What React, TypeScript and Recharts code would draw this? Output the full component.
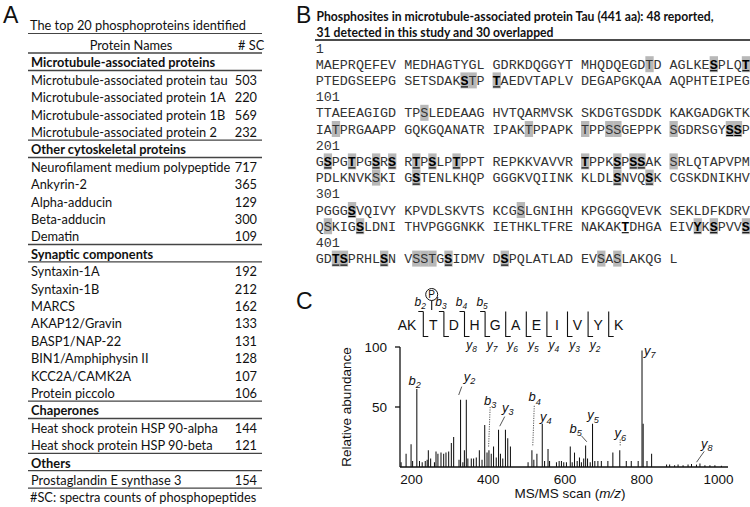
import React from "react";
import { BarChart, Bar, XAxis, YAxis, ReferenceDot, ReferenceLine, Label } from "recharts";

// ---- panel A: top 20 phosphoproteins ----
const sectionNames = [
  "Microtubule-associated proteins",
  "Other cytoskeletal proteins",
  "Synaptic components",
  "Chaperones",
  "Others",
];
const proteinNames = [
  "Microtubule-associated protein tau",
  "Microtubule-associated protein 1A",
  "Microtubule-associated protein 1B",
  "Microtubule-associated protein 2",
  "Neurofilament medium polypeptide",
  "Ankyrin-2",
  "Alpha-adducin",
  "Beta-adducin",
  "Dematin",
  "Syntaxin-1A",
  "Syntaxin-1B",
  "MARCS",
  "AKAP12/Gravin",
  "BASP1/NAP-22",
  "BIN1/Amphiphysin II",
  "KCC2A/CAMK2A",
  "Protein piccolo",
  "Heat shock protein HSP 90-alpha",
  "Heat shock protein HSP 90-beta",
  "Prostaglandin E synthase 3",
];
const proteinSection = [0, 0, 0, 0, 1, 1, 1, 1, 1, 2, 2, 2, 2, 2, 2, 2, 2, 3, 3, 4];
const spectraCounts = [503, 220, 569, 232, 717, 365, 129, 300, 109, 192, 212, 162, 133, 131, 128, 107, 106, 144, 121, 154];

// ---- panel B: tau phosphosites ----
const tauSequence =
  "MAEPRQEFEVMEDHAGTYGLGDRKDQGGYTMHQDQEGDTDAGLKESPLQT" +
  "PTEDGSEEPGSETSDAKSTPTAEDVTAPLVDEGAPGKQAAAQPHTEIPEG" +
  "TTAEEAGIGDTPSLEDEAAGHVTQARMVSKSKDGTGSDDKKAKGADGKTK" +
  "IATPRGAAPPGQKGQANATRIPAKTPPAPKTPPSSGEPPKSGDRSGYSSP" +
  "GSPGTPGSRSRTPSLPTPPTREPKKVAVVRTPPKSPSSAKSRLQTAPVPM" +
  "PDLKNVKSKIGSTENLKHQPGGGKVQIINKKLDLSNVQSKCGSKDNIKHV" +
  "PGGGSVQIVYKPVDLSKVTSKCGSLGNIHHKPGGGQVEVKSEKLDFKDRV" +
  "QSKIGSLDNITHVPGGGNKKIETHKLTFRENAKAKTDHGAEIVYKSPVVS" +
  "GDTSPRHLSNVSSTGSIDMVDSPQLATLADEVSASLAKQGL";
const reportedSites = [
  39, 46, 50, 68, 69, 71, 113, 153, 175, 181, 184, 185, 191, 198, 199, 202, 205, 208, 210, 212, 214, 217, 231, 235,
  237, 238, 241, 258, 262, 285, 289, 305, 324, 352, 356, 394, 396, 400, 403, 404, 409, 412, 413, 414, 416, 422, 433, 435,
];
const detectedSites = [
  46, 50, 68, 71, 198, 199, 202, 205, 208, 210, 212, 214, 217, 231, 235, 237, 238, 262, 285, 289, 305, 356, 386, 394,
  396, 400, 403, 404, 409, 416, 422,
];

// ---- panel C: MS/MS spectrum of AK(pT)DHGAEIVYK ----
const peakMz = [
  173, 186, 199, 203, 214, 221, 228, 236, 241, 244, 250, 260, 264, 269, 277, 284, 290, 297, 304, 310, 324, 328, 334,
  338, 343, 347, 356, 362, 369, 377, 384, 391, 397, 402, 408, 414, 421, 427, 432, 438, 445, 451, 458, 504, 514, 519,
  527, 541, 547, 556, 560, 578, 585, 591, 597, 604, 614, 619, 625, 632, 638, 643, 649, 654, 659, 666, 672, 678, 686,
  695, 712, 725, 743, 760, 773, 791, 801, 804, 814, 826, 865, 873, 886, 895, 908, 921, 930, 943, 952, 965, 978, 991,
  1008,
];
const peakIntensity = [
  4, 11, 19, 5, 65, 5, 4, 5, 6, 14, 7, 4, 13, 11, 12, 11, 12, 13, 20, 25, 6, 56, 4, 14, 56, 7, 7, 7, 8, 14, 6, 35, 12,
  14, 11, 17, 8, 31, 11, 7, 31, 24, 17, 4, 14, 6, 11, 36, 5, 15, 5, 4, 5, 5, 4, 4, 17, 4, 12, 5, 8, 4, 7, 18, 7, 4, 36,
  5, 5, 5, 5, 12, 14, 5, 5, 5, 97, 36, 5, 11, 2, 2, 1.5, 2, 1.5, 2, 2.5, 2, 3, 1.5, 1.5, 1.5, 1,
];
const xTicks = [200, 400, 600, 800, 1000];
const yTicks = [50, 100];

const peptideResidues = ["AK", "T", "D", "H", "G", "A", "E", "I", "V", "Y", "K"];
const bIonNames = ["b2", "b3", "b4", "b5"];
const yIonNames = ["y8", "y7", "y6", "y5", "y4", "y3", "y2"];

// fragment labels placed in spectrum units (m/z, abundance)
const ionLabelNames = ["b2", "y2", "b3", "y3", "b4", "y4", "b5", "y5", "y6", "y7", "y8"];
const ionLabelMz = [208, 351, 405, 451, 521, 550, 628, 673, 744, 821, 970];
const ionLabelLevel = [72, 75, 55, 49, 58, 42, 32, 43, 28, 97, 19];
const leaderLines = [
  { from: [331, 67], to: [323, 60], dotted: false },
  { from: [405, 50], to: [401, 17], dotted: true },
  { from: [443, 42], to: [430, 34], dotted: false },
  { from: [520, 51], to: [516, 17], dotted: true },
  { from: [643, 26], to: [657, 21], dotted: false },
  { from: [744, 23], to: [744, 18], dotted: true },
  { from: [963, 13], to: [943, 4], dotted: false },
];

const spectrum = peakMz.map((mz, i) => ({ mz, intensity: peakIntensity[i] }));

const SANS = "'Liberation Sans', Arial, sans-serif";
const BODY = "Lato, 'Open Sans', sans-serif";
const MONO = "'Liberation Mono', 'Courier New', monospace";
const INK = "#111";

function IonName({ x, y, name, size = 13 }: { x: number; y: number; name: string; size?: number }) {
  return (
    <text x={x} y={y} textAnchor="middle" fontFamily={SANS} fontSize={size} fontStyle="italic" fill={INK}>
      {name[0]}
      <tspan fontSize={size * 0.7} dy={size * 0.25}>
        {name.slice(1)}
      </tspan>
    </text>
  );
}

function TablePanel() {
  const rowH = 17.4;
  const firstRow = 63;
  const left = 28;
  const right = 262;
  type Row = { text: string; count?: number; header?: boolean; last?: boolean };
  const rows: Row[] = [];
  sectionNames.forEach((s, si) => {
    rows.push({ text: s, header: true });
    const members = proteinNames.map((n, i) => ({ n, i })).filter((p) => proteinSection[p.i] === si);
    members.forEach((p, k) => rows.push({ text: p.n, count: spectraCounts[p.i], last: k === members.length - 1 }));
  });
  return (
    <g fontFamily={BODY} fontSize={12.8} fill={INK}>
      <text x={3} y={23} fontFamily={SANS} fontSize={23}>
        A
      </text>
      <text x={30} y={29.5}>The top 20 phosphoproteins identified</text>
      <line x1={left} x2={right} y1={33.5} y2={33.5} stroke="#444" strokeWidth={1.2} />
      <text x={131} y={50} textAnchor="middle">
        Protein Names
      </text>
      <text x={238} y={50}>
        # SC
      </text>
      <line x1={left} x2={right} y1={53} y2={53} stroke="#444" strokeWidth={1.5} />
      {rows.map((r, i) => {
        const cy = firstRow + i * rowH;
        return (
          <g key={i}>
            <text x={31} y={cy + 4.3} fontWeight={r.header ? 700 : 400}>
              {r.text}
            </text>
            {r.count !== undefined && (
              <text x={257} y={cy + 4.3} textAnchor="end">
                {r.count}
              </text>
            )}
            {(r.header || r.last) && (
              <line x1={left} x2={right} y1={cy + 7.5} y2={cy + 7.5} stroke="#444" strokeWidth={1.3} />
            )}
          </g>
        );
      })}
      <text x={30} y={502}>#SC: spectra counts of phosphopeptides</text>
    </g>
  );
}

function SequencePanel() {
  const x0 = 315.7;
  const adv = 8.04;
  const top = 48;
  const lineH = 16.2;
  const reported = new Set(reportedSites);
  const detected = new Set(detectedSites);
  const items: React.ReactNode[] = [];
  let row = 0;
  for (let start = 0; start < tauSequence.length; start += 100) {
    const cyLabel = top + row * lineH;
    items.push(
      <text key={"n" + start} x={x0} y={cyLabel + 4.5} fontFamily={MONO} fontSize={13.4} fill="#333">
        {start + 1}
      </text>
    );
    row++;
    for (let half = 0; half < 2; half++) {
      const lineStart = start + half * 50;
      if (lineStart >= tauSequence.length) break;
      const cy = top + row * lineH;
      for (let j = 0; j < 50 && lineStart + j < tauSequence.length; j++) {
        const pos = lineStart + j + 1;
        const col = j + Math.floor(j / 10);
        const x = x0 + col * adv;
        const isRep = reported.has(pos);
        const isDet = detected.has(pos);
        items.push(
          <g key={"r" + pos}>
            {isRep && <rect x={x} y={cy - 8} width={adv + 0.3} height={16} fill="#b8b8b8" />}
            <text
              x={x + adv / 2}
              y={cy + 4.5}
              textAnchor="middle"
              fontFamily={MONO}
              fontSize={13.4}
              fontWeight={isDet ? 700 : 400}
              fill={isDet ? "#000" : "#333"}
            >
              {tauSequence[pos - 1]}
            </text>
            {isDet && <line x1={x + 0.5} x2={x + adv - 0.5} y1={cy + 6.5} y2={cy + 6.5} stroke="#000" strokeWidth={1.1} />}
          </g>
        );
      }
      row++;
    }
  }
  return (
    <g>
      <text x={296} y={23} fontFamily={SANS} fontSize={23} fill={INK}>
        B
      </text>
      <text x={316.5} y={21.3} fontFamily={BODY} fontWeight={700} fontSize={12.3} fill={INK} textLength={397} lengthAdjust="spacingAndGlyphs">
        Phosphosites  in microtubule-associated protein Tau (441 aa): 48 reported,
      </text>
      <text x={316.5} y={36.5} fontFamily={BODY} fontWeight={700} fontSize={12.3} fill={INK} textLength={237} lengthAdjust="spacingAndGlyphs">
        31 detected in this study and 30 overlapped
      </text>
      <line x1={315} x2={750} y1={40} y2={40} stroke="#111" strokeWidth={1.3} />
      {items}
    </g>
  );
}

function PeptideMap() {
  const cut0 = 423.3;
  const step = 20.6;
  const top = 311.5;
  const bottom = 336.5;
  const letterY = 330;
  const phosX = cut0 + 8.4;
  return (
    <g fill={INK}>
      <text x={296} y={309} fontFamily={SANS} fontSize={23}>
        C
      </text>
      <text x={407} y={letterY} textAnchor="middle" fontFamily={SANS} fontSize={14}>
        {peptideResidues[0]}
      </text>
      {peptideResidues.slice(1).map((r, i) => (
        <text key={r + i} x={cut0 + step * i + 10} y={letterY} textAnchor="middle" fontFamily={SANS} fontSize={14}>
          {r}
        </text>
      ))}
      {peptideResidues.slice(1).map((_, i) => {
        const x = cut0 + step * i;
        const d = `M${x} ${top} V${bottom} h5` + (i < bIonNames.length ? ` M${x} ${top} h-5` : "");
        return <path key={"c" + i} d={d} fill="none" stroke={INK} strokeWidth={1.1} />;
      })}
      {bIonNames.map((n, i) => (
        <IonName key={n} x={cut0 + step * i - 3} y={306} name={n} size={12} />
      ))}
      {yIonNames.map((n, i) => (
        <IonName key={n} x={cut0 + step * (i + 2) + 7} y={349} name={n} size={12} />
      ))}
      <circle cx={phosX} cy={294.5} r={6} fill="#fff" stroke={INK} strokeWidth={1} />
      <text x={phosX} y={298} textAnchor="middle" fontFamily={SANS} fontSize={10}>
        P
      </text>
      <line x1={phosX} x2={phosX} y1={300.5} y2={310} stroke={INK} strokeWidth={1.1} />
    </g>
  );
}

function Spectrum() {
  return (
    <BarChart width={420} height={177} data={spectrum} margin={{ top: 17, right: 22, bottom: 0, left: 0 }}>
      <XAxis
        type="number"
        dataKey="mz"
        domain={[170, 1025]}
        ticks={xTicks}
        allowDataOverflow
        height={40}
        tickLine={false}
        tickSize={3}
        tickMargin={4}
        axisLine={{ stroke: INK, strokeWidth: 1.3 }}
        tick={{ fill: INK, fontSize: 13.5, fontFamily: SANS }}
      >
        <Label
          content={(p: any) => {
            const vb = p.viewBox || { x: 70, y: 137, width: 328 };
            return (
              <text x={vb.x + vb.width / 2 + 6} y={vb.y + 31} textAnchor="middle" fontFamily={SANS} fontSize={13.5} fill={INK}>
                MS/MS scan (<tspan fontStyle="italic">m/z</tspan>)
              </text>
            );
          }}
        />
      </XAxis>
      <YAxis
        type="number"
        domain={[0, 100]}
        ticks={yTicks}
        width={70}
        tickSize={5}
        tickMargin={8}
        axisLine={{ stroke: INK, strokeWidth: 1.3 }}
        tickLine={{ stroke: INK, strokeWidth: 1.3 }}
        tick={{ fill: INK, fontSize: 13.5, fontFamily: SANS }}
      >
        <Label
          content={(p: any) => {
            const vb = p.viewBox || { x: 0, y: 17, height: 120 };
            const cx = vb.x + 21;
            const cy = vb.y + vb.height / 2;
            return (
              <text x={cx} y={cy} transform={`rotate(-90 ${cx} ${cy})`} textAnchor="middle" fontFamily={SANS} fontSize={13.5} fill={INK}>
                Relative abundance
              </text>
            );
          }}
        />
      </YAxis>
      <Bar dataKey="intensity" barSize={1.6} fill={INK} isAnimationActive={false} />
      {leaderLines.map((l, i) => (
        <ReferenceLine
          key={"l" + i}
          segment={[
            { x: l.from[0], y: l.from[1] },
            { x: l.to[0], y: l.to[1] },
          ]}
          stroke="#444"
          strokeWidth={0.9}
          strokeDasharray={l.dotted ? "1.2 1.2" : undefined}
        />
      ))}
      {ionLabelNames.map((n, i) => (
        <ReferenceDot
          key={n}
          x={ionLabelMz[i]}
          y={ionLabelLevel[i]}
          r={0}
          shape={(p: any) => <IonName x={p.cx} y={p.cy + 4} name={n} size={13} />}
        />
      ))}
    </BarChart>
  );
}

export default function App() {
  return (
    <div style={{ position: "absolute", left: 0, top: 0, width: 750, height: 507, background: "#fff", overflow: "hidden" }}>
      <svg width={750} height={507} style={{ position: "absolute", left: 0, top: 0 }}>
        <TablePanel />
        <SequencePanel />
        <PeptideMap />
      </svg>
      <div style={{ position: "absolute", left: 330, top: 330 }}>
        <Spectrum />
      </div>
    </div>
  );
}
